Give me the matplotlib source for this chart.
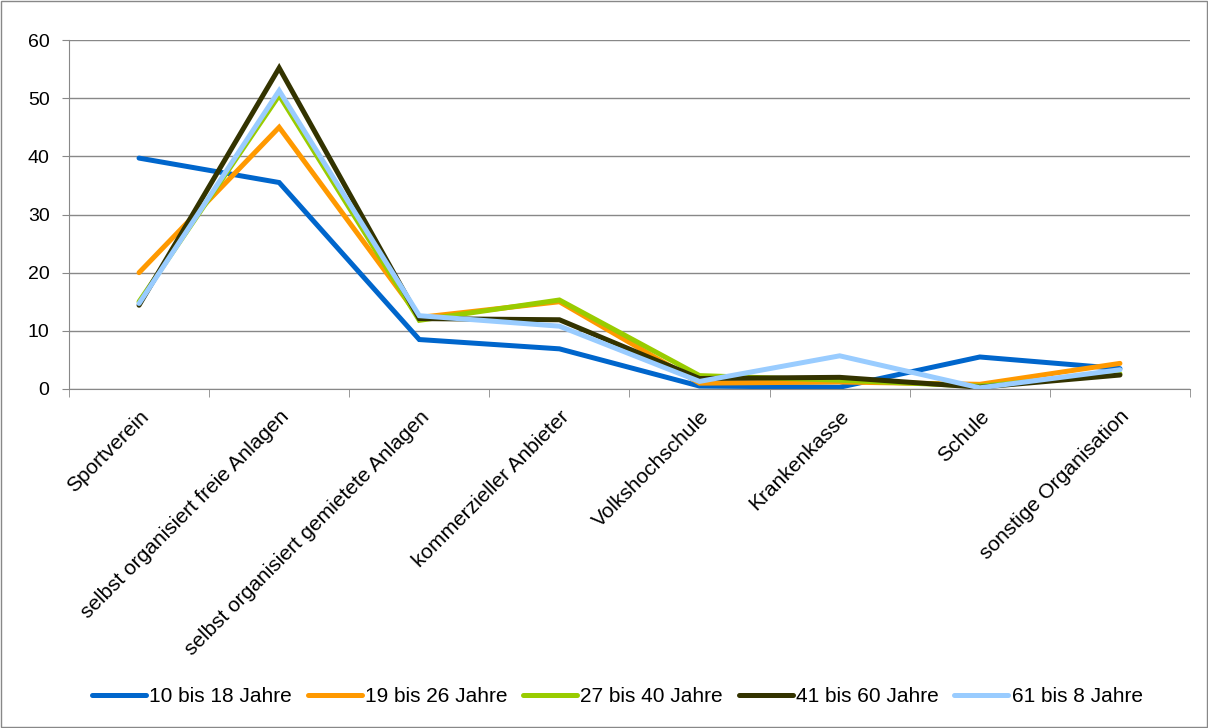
import numpy as np
import matplotlib.pyplot as plt

plt.rcParams['font.family'] = ['Liberation Sans', 'DejaVu Sans']

kategorien = ['Sportverein', 'selbst organisiert freie Anlagen',
              'selbst organisiert gemietete Anlagen', 'kommerzieller Anbieter',
              'Volkshochschule', 'Krankenkasse', 'Schule', 'sonstige Organisation']
serien = ['10 bis 18 Jahre', '19 bis 26 Jahre', '27 bis 40 Jahre',
          '41 bis 60 Jahre', '61 bis 8 Jahre']
werte_10_18 = [39.7, 35.5, 8.5, 6.9, 0.5, 0.3, 5.5, 3.5]
werte_19_26 = [20.0, 45.0, 12.3, 15.0, 1.0, 1.2, 0.8, 4.4]
werte_27_40 = [15.0, 50.5, 11.8, 15.3, 2.3, 1.5, 0.5, 2.6]
werte_41_60 = [14.4, 55.2, 12.1, 11.9, 1.8, 2.0, 0.3, 2.4]
werte_61 = [14.7, 51.3, 12.6, 10.8, 1.3, 5.7, 0.2, 3.3]
farben = ['#0066cc', '#ff9900', '#99cc00', '#333300', '#99ccff']

fig = plt.figure(figsize=(12.08, 7.28), dpi=100)
ax = fig.add_axes([0.0571, 0.4657, 0.928, 0.4793])

x = np.arange(len(kategorien))
for name, werte, farbe in zip(serien,
                              [werte_10_18, werte_19_26, werte_27_40, werte_41_60, werte_61],
                              farben):
    ax.plot(x, werte, color=farbe, lw=3.6, label=name,
            solid_joinstyle='miter', solid_capstyle='round')

ax.set_xlim(-0.5, len(kategorien) - 0.5)
ax.set_ylim(0, 60)
ax.set_yticks(range(0, 61, 10))
ax.yaxis.grid(True, color='#888888', lw=1)
ax.set_axisbelow(True)
for s in ['top', 'right']:
    ax.spines[s].set_visible(False)
for s in ['left', 'bottom']:
    ax.spines[s].set_color('#888888')
ax.tick_params(axis='y', length=5, color='#888888', labelsize=14, pad=9)
ax.set_xticks(x)
ax.set_xticklabels(kategorien, rotation=45, ha='right', rotation_mode='anchor', fontsize=15)
ax.tick_params(axis='x', length=0, pad=13)
ax.set_xticks(np.arange(-0.5, len(kategorien)), minor=True)
ax.tick_params(axis='x', which='minor', length=6, color='#888888')

ax.legend(loc='center', bbox_to_anchor=(0.511, 0.0426), bbox_transform=fig.transFigure,
          ncol=5, frameon=False, fontsize=15, handlelength=2.6, handletextpad=0.15,
          columnspacing=0.75)

fig.patches.append(plt.Rectangle((0.001, 0.001), 0.998, 0.998, transform=fig.transFigure,
                                 fill=False, edgecolor='#888888', lw=1))

fig.savefig('out.png', dpi=100)
